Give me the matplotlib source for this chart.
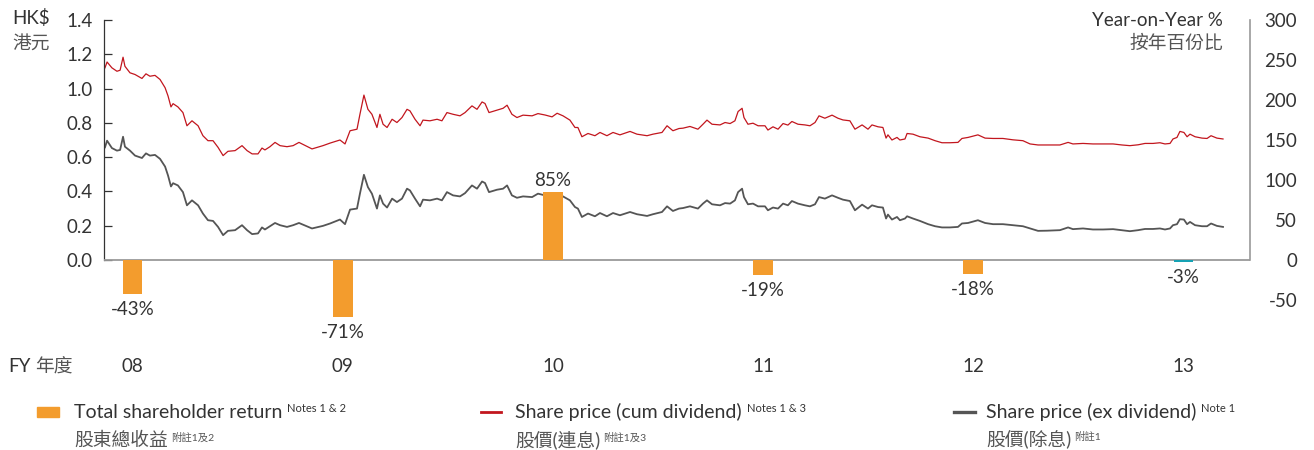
import matplotlib
matplotlib.use("Agg")
import matplotlib.pyplot as plt
from matplotlib.patches import Rectangle
from matplotlib.lines import Line2D
import numpy as np

# ---------------- data ----------------
fiscal_years = [2008, 2009, 2010, 2011, 2012, 2013]
fy_labels = ["08", "09", "10", "11", "12", "13"]
tsr_pct = [-43, -71, 85, -19, -18, -3]

price_time = [
    2007.869, 2007.879, 2007.902, 2007.926, 2007.941, 2007.955, 2007.964, 2007.988,
    2008.012, 2008.045, 2008.064, 2008.083, 2008.107, 2008.131, 2008.155, 2008.169,
    2008.183, 2008.193, 2008.216, 2008.240, 2008.259, 2008.283, 2008.312, 2008.335,
    2008.359, 2008.383, 2008.407, 2008.431, 2008.454, 2008.488, 2008.521, 2008.545,
    2008.569, 2008.597, 2008.616, 2008.630, 2008.654, 2008.678, 2008.702, 2008.735,
    2008.764, 2008.792, 2008.854, 2008.906, 2008.940, 2008.987, 2009.011, 2009.035,
    2009.068, 2009.082, 2009.101, 2009.120, 2009.139, 2009.163, 2009.177, 2009.192,
    2009.211, 2009.235, 2009.258, 2009.282, 2009.306, 2009.320, 2009.344, 2009.368,
    2009.382, 2009.415, 2009.449, 2009.472, 2009.496, 2009.525, 2009.558, 2009.582,
    2009.615, 2009.639, 2009.663, 2009.677, 2009.696, 2009.734, 2009.763, 2009.782,
    2009.805, 2009.829, 2009.858, 2009.901, 2009.929, 2009.962, 2009.996, 2010.020,
    2010.048, 2010.081, 2010.105, 2010.119, 2010.138, 2010.167, 2010.200, 2010.224,
    2010.257, 2010.286, 2010.319, 2010.367, 2010.400, 2010.448, 2010.476, 2010.519,
    2010.543, 2010.571, 2010.600, 2010.619, 2010.652, 2010.690, 2010.714, 2010.733,
    2010.757, 2010.795, 2010.819, 2010.843, 2010.866, 2010.881, 2010.900, 2010.909,
    2010.928, 2010.952, 2010.976, 2011.009, 2011.023, 2011.047, 2011.071, 2011.095,
    2011.118, 2011.137, 2011.166, 2011.199, 2011.223, 2011.247, 2011.266, 2011.294,
    2011.328, 2011.356, 2011.380, 2011.413, 2011.437, 2011.471, 2011.499, 2011.518,
    2011.547, 2011.570, 2011.585, 2011.594, 2011.613, 2011.637, 2011.651, 2011.675,
    2011.685, 2011.713, 2011.746, 2011.785, 2011.818, 2011.851, 2011.889, 2011.927,
    2011.946, 2011.975, 2012.022, 2012.056, 2012.094, 2012.141, 2012.189, 2012.236,
    2012.270, 2012.308, 2012.351, 2012.412, 2012.451, 2012.474, 2012.522, 2012.569,
    2012.617, 2012.665, 2012.707, 2012.745, 2012.784, 2012.817, 2012.855, 2012.888,
    2012.912, 2012.936, 2012.950, 2012.969, 2012.983, 2013.002, 2013.017, 2013.031,
    2013.055, 2013.088, 2013.112, 2013.131, 2013.159, 2013.188,
]

price_cum_div = [
    1.121, 1.155, 1.121, 1.101, 1.107, 1.183, 1.130, 1.092,
    1.082, 1.059, 1.086, 1.072, 1.077, 1.053, 1.005, 0.957,
    0.893, 0.912, 0.893, 0.860, 0.783, 0.812, 0.783, 0.725,
    0.696, 0.696, 0.657, 0.609, 0.634, 0.638, 0.667, 0.638,
    0.619, 0.619, 0.653, 0.642, 0.661, 0.686, 0.667, 0.661,
    0.667, 0.686, 0.648, 0.667, 0.682, 0.700, 0.677, 0.754,
    0.763, 0.850, 0.962, 0.879, 0.850, 0.773, 0.850, 0.792,
    0.773, 0.821, 0.802, 0.831, 0.879, 0.870, 0.821, 0.783,
    0.816, 0.812, 0.821, 0.812, 0.860, 0.850, 0.841, 0.860,
    0.899, 0.879, 0.922, 0.913, 0.860, 0.874, 0.885, 0.903,
    0.850, 0.831, 0.845, 0.841, 0.854, 0.846, 0.835, 0.856,
    0.841, 0.816, 0.773, 0.773, 0.719, 0.738, 0.725, 0.744,
    0.725, 0.744, 0.730, 0.750, 0.734, 0.725, 0.734, 0.744,
    0.783, 0.754, 0.767, 0.769, 0.779, 0.763, 0.792, 0.816,
    0.792, 0.788, 0.802, 0.796, 0.812, 0.866, 0.885, 0.831,
    0.792, 0.798, 0.783, 0.783, 0.758, 0.777, 0.763, 0.796,
    0.787, 0.808, 0.792, 0.788, 0.783, 0.802, 0.841, 0.827,
    0.845, 0.827, 0.817, 0.812, 0.763, 0.788, 0.763, 0.788,
    0.777, 0.773, 0.711, 0.730, 0.700, 0.715, 0.700, 0.706,
    0.738, 0.734, 0.719, 0.711, 0.696, 0.684, 0.684, 0.686,
    0.709, 0.715, 0.730, 0.711, 0.709, 0.709, 0.701, 0.696,
    0.677, 0.671, 0.671, 0.671, 0.686, 0.677, 0.680, 0.677,
    0.677, 0.677, 0.671, 0.667, 0.672, 0.680, 0.680, 0.684,
    0.677, 0.680, 0.706, 0.715, 0.750, 0.744, 0.719, 0.734,
    0.719, 0.711, 0.709, 0.725, 0.711, 0.706,
]

price_ex_div = [
    0.657, 0.696, 0.653, 0.638, 0.642, 0.719, 0.661, 0.638,
    0.609, 0.595, 0.622, 0.609, 0.613, 0.590, 0.545, 0.493,
    0.429, 0.448, 0.435, 0.396, 0.319, 0.348, 0.319, 0.271,
    0.232, 0.228, 0.193, 0.145, 0.170, 0.174, 0.203, 0.174,
    0.151, 0.155, 0.190, 0.178, 0.197, 0.216, 0.203, 0.193,
    0.203, 0.216, 0.184, 0.199, 0.213, 0.236, 0.209, 0.294,
    0.300, 0.387, 0.497, 0.425, 0.387, 0.300, 0.377, 0.329,
    0.306, 0.358, 0.338, 0.358, 0.416, 0.406, 0.358, 0.313,
    0.352, 0.348, 0.358, 0.348, 0.396, 0.377, 0.371, 0.390,
    0.435, 0.416, 0.458, 0.449, 0.396, 0.410, 0.416, 0.435,
    0.377, 0.363, 0.371, 0.367, 0.387, 0.377, 0.371, 0.383,
    0.371, 0.348, 0.309, 0.300, 0.251, 0.271, 0.255, 0.274,
    0.255, 0.274, 0.261, 0.280, 0.267, 0.257, 0.267, 0.280,
    0.313, 0.286, 0.300, 0.303, 0.313, 0.300, 0.329, 0.348,
    0.325, 0.319, 0.332, 0.329, 0.348, 0.396, 0.416, 0.367,
    0.325, 0.329, 0.313, 0.313, 0.290, 0.306, 0.300, 0.329,
    0.319, 0.344, 0.329, 0.319, 0.313, 0.325, 0.367, 0.358,
    0.377, 0.363, 0.352, 0.344, 0.290, 0.323, 0.300, 0.319,
    0.309, 0.306, 0.242, 0.265, 0.236, 0.251, 0.232, 0.242,
    0.255, 0.242, 0.228, 0.209, 0.197, 0.190, 0.190, 0.193,
    0.213, 0.216, 0.232, 0.216, 0.209, 0.209, 0.203, 0.197,
    0.184, 0.170, 0.171, 0.174, 0.190, 0.180, 0.184, 0.178,
    0.178, 0.180, 0.174, 0.168, 0.174, 0.181, 0.181, 0.184,
    0.178, 0.184, 0.203, 0.209, 0.238, 0.236, 0.209, 0.222,
    0.203, 0.197, 0.197, 0.213, 0.199, 0.193,
]

# ---------------- style ----------------
ORANGE = "#F39C2D"
TEAL = "#16A2B4"
RED = "#C2161E"
GRAY = "#555555"
TXT = "#333333"
CTXT = "#555555"
FONT = ["Lato", "Noto Sans CJK TC", "DejaVu Sans"]
plt.rcParams["font.family"] = FONT
plt.rcParams["font.weight"] = "normal"
plt.rcParams["axes.unicode_minus"] = False

W, H = 1314, 450
fig = plt.figure(figsize=(W / 100, H / 100), dpi=100)


def fx(px):
    return px / W


def fy(py):
    return 1 - py / H


ax = fig.add_axes([fx(104), fy(300), fx(1250) - fx(104), 280 / H])
ax.patch.set_visible(False)
ax.plot(price_time, price_cum_div, color=RED, lw=0.9, zorder=2)
ax.plot(price_time, price_ex_div, color=GRAY, lw=1.3, zorder=2)
ax.set_xlim(2007.8644, 2013.3164)
ax.set_ylim(-0.23333, 1.4)

ax2 = ax.twinx()
ax2.set_ylim(-50, 300)
bar_colors = [ORANGE] * 5 + [TEAL]
ax2.bar(fiscal_years, tsr_pct, width=0.095, color=bar_colors, zorder=3, clip_on=False)
ax2.axhline(0, color="#9a9a9a", lw=1.3, zorder=2)

for yr, v in zip(fiscal_years, tsr_pct):
    if v < 0:
        ax2.annotate(f"{v}%", (yr, v), xytext=(0, -5), textcoords="offset points",
                     ha="center", va="top", fontsize=13.5, color=TXT,
                     annotation_clip=False)
    else:
        ax2.annotate(f"{v}%", (yr, v), xytext=(0, 2), textcoords="offset points",
                     ha="center", va="bottom", fontsize=13.5, color=TXT,
                     annotation_clip=False)

# spines
for s in ["top", "bottom", "right"]:
    ax.spines[s].set_visible(False)
ax.spines["left"].set_bounds(0, 1.4)
ax.spines["left"].set_color("#333333")
ax.spines["left"].set_linewidth(0.9)
for s in ["top", "bottom", "left"]:
    ax2.spines[s].set_visible(False)
ax2.spines["right"].set_bounds(0, 300)
ax2.spines["right"].set_color("#9a9a9a")
ax2.spines["right"].set_linewidth(1.2)

# left ticks
yt = np.arange(0, 1.41, 0.2)
ax.set_yticks(yt, [f"{v:.1f}" for v in yt])
ax.tick_params(axis="y", direction="in", length=6, width=0.9, color="#333333",
               pad=8, labelsize=13.5, labelcolor=TXT)
# right ticks
ax2.set_yticks(range(-50, 301, 50))
ax2.tick_params(axis="y", length=0, pad=34, labelsize=13.5, labelcolor=TXT)
for lbl in ax2.get_yticklabels():
    lbl.set_horizontalalignment("right")
# x ticks (fiscal years)
ax.set_xticks(fiscal_years, fy_labels)
ax.tick_params(axis="x", length=0, pad=42, labelsize=13.5, labelcolor=TXT)

# headers
fig.text(fx(12), fy(18), "HK$", ha="left", va="center", fontsize=13.5, color=TXT)
fig.text(fx(12), fy(43), "港元", ha="left", va="center", fontsize=13.5, color=CTXT)
fig.text(fx(1223), fy(20), "Year-on-Year %", ha="right", va="center", fontsize=13.5, color=TXT)
fig.text(fx(1223), fy(43), "按年百份比", ha="right", va="center", fontsize=13.5, color=CTXT)
fig.text(fx(8), fy(367), "FY", ha="left", va="center", fontsize=13.5, color=TXT)
fig.text(fx(35), fy(367), "年度", ha="left", va="center", fontsize=13.5, color=CTXT)

# legend
fig.add_artist(Rectangle((fx(37), fy(417)), fx(22), 10 / H, transform=fig.transFigure,
                         color=ORANGE))
fig.add_artist(Line2D([fx(481), fx(501)], [fy(412), fy(412)], transform=fig.transFigure,
                      color=RED, lw=2))
fig.add_artist(Line2D([fx(954), fx(975)], [fy(412), fy(412)], transform=fig.transFigure,
                      color=GRAY, lw=2.4))

legend_items = [
    (74, "Total shareholder return", "Notes 1 & 2", "股東總收益", "附註1及2"),
    (515, "Share price (cum dividend)", "Notes 1 & 3", "股價(連息)", "附註1及3"),
    (986, "Share price (ex dividend)", "Note 1", "股價(除息)", "附註1"),
]
fig.canvas.draw()
renderer = fig.canvas.get_renderer()
for x0, en, en_note, zh, zh_note in legend_items:
    t1 = fig.text(fx(x0), fy(418), en, ha="left", va="baseline", fontsize=14, color=TXT)
    t2 = fig.text(fx(x0), fy(440), zh, ha="left", va="center", fontsize=13.5, color=CTXT)
    b1 = t1.get_window_extent(renderer)
    b2 = t2.get_window_extent(renderer)
    fig.text(b1.x1 / W + fx(5), fy(403), en_note, ha="left", va="top", fontsize=8,
             color=TXT)
    fig.text(b2.x1 / W + fx(3), fy(432), zh_note, ha="left", va="top", fontsize=7.5,
             color=CTXT)

fig.savefig("out.png", dpi=100)
